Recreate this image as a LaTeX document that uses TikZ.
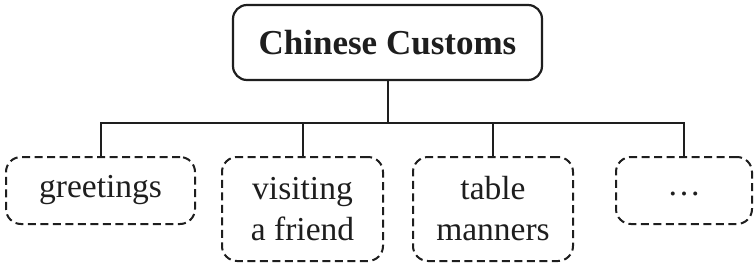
\documentclass[tikz,border=0pt]{standalone}
\usepackage{fontspec}
\setmainfont{Liberation Serif}
\usetikzlibrary{positioning}
\definecolor{inkgray}{RGB}{30,30,30}
\tikzset{
  rootbox/.style={
    draw=inkgray,
    rectangle,
    rounded corners=14pt,
    line width=2.2pt,
    minimum width=309pt,
    minimum height=75pt,
    inner sep=0pt,
    align=center,
    font=\fontsize{35}{40}\selectfont\bfseries
  },
  leafbox/.style={
    draw=inkgray,
    rectangle,
    rounded corners=15pt,
    line width=2pt,
    dash pattern=on 8pt off 4.5pt,
    inner sep=0pt,
    align=center,
    font=\fontsize{33.5}{41}\selectfont
  },
  branch/.style={draw=inkgray,line width=2pt}
}

\begin{document}
\begin{tikzpicture}[x=1pt,y=-1pt,text=inkgray]
  \useasboundingbox[fill=white] (0,0) rectangle (756,266);

  % Root
  \node[rootbox] (customs) at (387.5,42.5) {Chinese Customs};

  % Leaves
  \node[leafbox,minimum width=189pt,minimum height=67pt] (greetings) at (100.5,190.5)
    {greetings};
  \node[leafbox,minimum width=161pt,minimum height=104pt] (visiting) at (302.5,209)
    {visiting\\a friend};
  \node[leafbox,minimum width=160pt,minimum height=104pt] (manners) at (493,209)
    {table\\manners};
  \node[leafbox,minimum width=136pt,minimum height=67pt] (others) at (684,190.5)
    {\vphantom{g}\ldots};

  % Branches
  \coordinate (fork) at (387.5,123);
  \draw[branch] (customs.south) -- (fork);
  \foreach \leaf in {greetings,visiting,manners,others} {
    \draw[branch] (fork) -| (\leaf.north);
  }
\end{tikzpicture}
\end{document}
